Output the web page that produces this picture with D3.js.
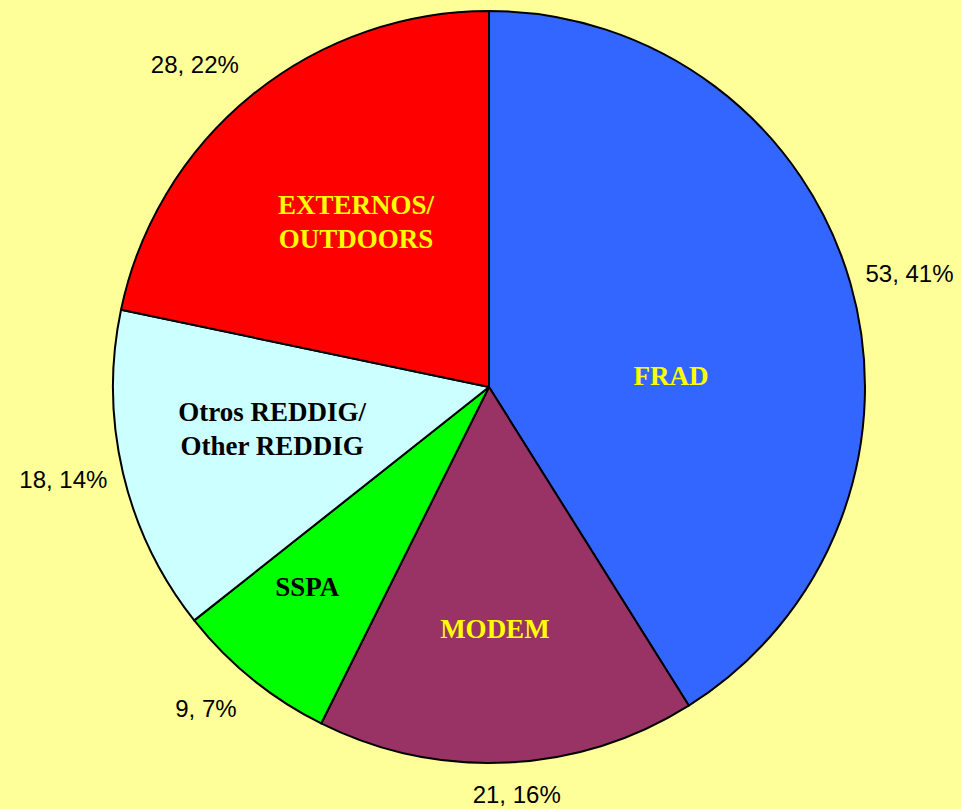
<!DOCTYPE html>
<html>
<head>
<meta charset="utf-8">
<script src="https://cdn.jsdelivr.net/npm/d3@7"></script>
<style>
  html, body { margin: 0; padding: 0; background: #FFFF99; }
  svg { display: block; }
</style>
</head>
<body>
<svg id="chart" width="961" height="809"></svg>
<script>
// data, clockwise from 12 o'clock
var categories = [["FRAD"], ["MODEM"], ["SSPA"], ["Otros REDDIG/", "Other REDDIG"], ["EXTERNOS/", "OUTDOORS"]];
var values = [53, 21, 9, 18, 28];
var sliceColors = ["#3366FF", "#993366", "#00FF00", "#CCFFFF", "#FF0000"];
var nameColors = ["#FFFF00", "#FFFF00", "#000000", "#000000", "#FFFF00"];

// where the names sit inside each slice (fraction of radius, turn in degrees)
var insideK = [0.485, 0.643, 0.719, 0.588, 0.564];
var insideTurn = [12.5, 1.4, 3.2, 2.2, 0.2];
// outside labels: turn in degrees and gap from the rim
var outsideTurn = [0.9, -1.1, 2.3, 1.0, -3.3];
var outsideGap = [14, 17, 23, 14, 22];

var width = 961, height = 809;
var cx = 489, cy = 387, r = 376;

var svg = d3.select('#chart');
var total = d3.sum(values);

var pie = d3.pie().sort(null).value(function(d) { return d; });
var arcs = pie(values);

var arc = d3.arc().innerRadius(0).outerRadius(r);

var g = svg.append('g')
  .attr('transform', 'translate(' + cx + ',' + cy + ')');

g.selectAll('path.slice')
  .data(arcs)
  .enter().append('path')
  .attr('class', 'slice')
  .attr('d', arc)
  .style('fill', function(d, i) { return sliceColors[i]; })
  .style('stroke', '#000')
  .style('stroke-width', 2)
  .style('stroke-linejoin', 'round');

// names inside the slices
arcs.forEach(function(d, i) {
  var a = (d.startAngle + d.endAngle) / 2 + insideTurn[i] * Math.PI / 180;
  var rr = r * insideK[i];
  var x = rr * Math.sin(a), y = -rr * Math.cos(a);
  var lines = categories[i];
  var lh = 34;
  var first = y - (lines.length - 1) * lh / 2 + 9;
  var t = g.append('text')
    .attr('text-anchor', 'middle')
    .style('font-family', '"Liberation Serif", "Times New Roman", serif')
    .style('font-weight', 'bold')
    .style('font-size', '27px')
    .style('fill', nameColors[i]);
  lines.forEach(function(s, j) {
    t.append('tspan')
      .attr('x', x)
      .attr('y', first + j * lh)
      .text(s);
  });
});

// value, percent outside
arcs.forEach(function(d, i) {
  var a = (d.startAngle + d.endAngle) / 2 + outsideTurn[i] * Math.PI / 180;
  var pct = Math.round(d.value / total * 100);
  var t = g.append('text')
    .attr('text-anchor', 'middle')
    .style('font-family', '"Liberation Sans", Arial, sans-serif')
    .style('font-size', '24px')
    .style('fill', '#000')
    .text(d.value + ', ' + pct + '%');
  var w = t.node().getComputedTextLength();
  var h = 24;
  var ext = Math.abs(Math.sin(a)) * w / 2 + Math.abs(Math.cos(a)) * h / 2;
  var rr = r + outsideGap[i] + ext;
  t.attr('x', rr * Math.sin(a))
    .attr('y', -rr * Math.cos(a) + 8.6);
});
</script>
</body>
</html>
